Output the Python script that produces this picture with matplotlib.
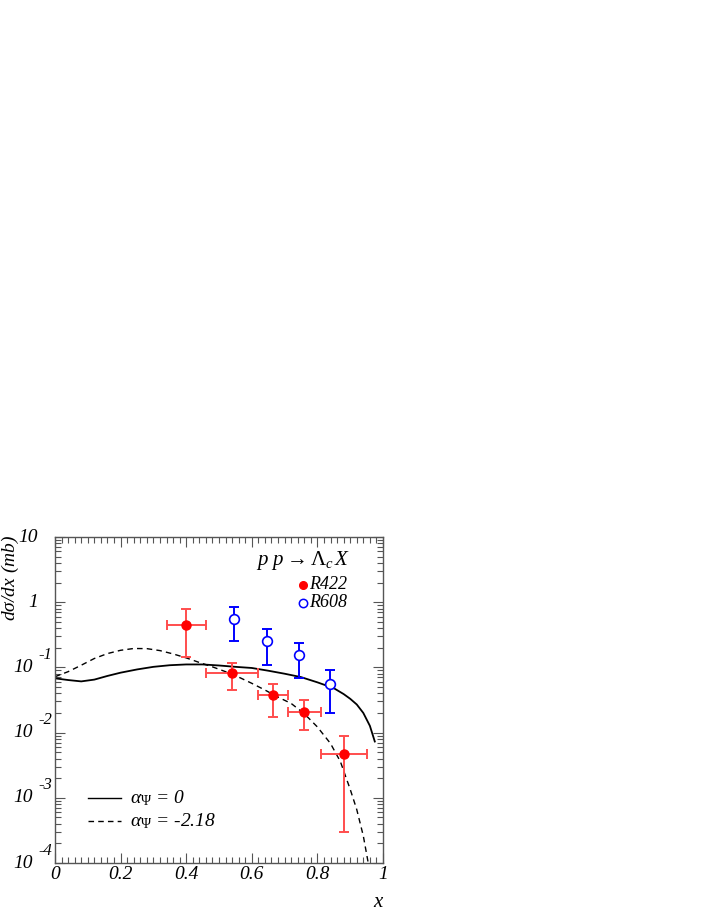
import matplotlib
matplotlib.use("Agg")
import matplotlib.pyplot as plt
import matplotlib.transforms as mtransforms
from matplotlib.ticker import MultipleLocator, LogLocator, NullFormatter

plt.rcParams['font.family'] = ['Liberation Serif', 'DejaVu Serif']
plt.rcParams['mathtext.fontset'] = 'custom'
plt.rcParams['mathtext.rm'] = 'Liberation Serif'
plt.rcParams['mathtext.it'] = 'Liberation Serif:italic'
plt.rcParams['mathtext.cal'] = 'Liberation Serif:italic'

# ---------------- data ----------------
r422_x = [0.40, 0.54, 0.664, 0.76, 0.88]
r422_y = [0.445, 0.083, 0.0373, 0.0207, 0.0047]
r422_yhi = [0.78, 0.115, 0.055, 0.0316, 0.0089]
r422_ylo = [0.146, 0.0445, 0.0176, 0.0109, 0.000294]
r422_xerr = [0.06, 0.08, 0.045, 0.05, 0.07]

r608_x = [0.547, 0.645, 0.743, 0.838]
r608_y = [0.543, 0.25, 0.153, 0.056]
r608_yhi = [0.849, 0.395, 0.239, 0.092]
r608_ylo = [0.25, 0.11, 0.068, 0.0198]

solid_x = [0, 0.04, 0.08, 0.12, 0.16, 0.2, 0.25, 0.3, 0.35, 0.4, 0.45, 0.5, 0.55,
           0.6, 0.65, 0.7, 0.75, 0.8, 0.85, 0.88, 0.9, 0.92, 0.94, 0.96, 0.975]
solid_y = [0.068, 0.064, 0.061, 0.065, 0.074, 0.083, 0.093, 0.102, 0.108, 0.111,
           0.111, 0.107, 0.102, 0.098, 0.089, 0.080, 0.071, 0.059, 0.048, 0.039,
           0.033, 0.027, 0.020, 0.0127, 0.0073]

dashed_x = [0, 0.04, 0.08, 0.12, 0.16, 0.2, 0.24, 0.28, 0.32, 0.36, 0.4, 0.44, 0.48,
            0.52, 0.56, 0.6, 0.64, 0.68, 0.72, 0.76, 0.8, 0.84, 0.87, 0.9, 0.92,
            0.94, 0.955]
dashed_y = [0.072, 0.086, 0.108, 0.137, 0.163, 0.183, 0.195, 0.194, 0.181, 0.161,
            0.140, 0.119, 0.102, 0.086, 0.071, 0.057, 0.045, 0.035, 0.028, 0.0195,
            0.0122, 0.0068, 0.0036, 0.00135, 0.00066, 0.00026, 0.0001]

xticks = [0, 0.2, 0.4, 0.6, 0.8, 1]
xticklabels = ['0', '0.2', '0.4', '0.6', '0.8', '1']
ydecades = [10, 1, 0.1, 0.01, 0.001, 0.0001]
ybase = ['10', '1', '10', '10', '10', '10']
yexp = ['', '', '-1', '-2', '-3', '-4']

# ---------------- figure ----------------
W, H = 706, 913
fig = plt.figure(figsize=(W / 100, H / 100), dpi=100)
L, R, T, B = 55, 383, 537, 863
ax = fig.add_axes([L / W, 1 - B / H, (R - L) / W, (B - T) / H])
ax.set_xlim(0, 1)
ax.set_yscale('log')
ax.set_ylim(1e-4, 10)

ax.plot(solid_x, solid_y, color='black', lw=1.3)
ax.plot(dashed_x, dashed_y, color='black', lw=1.0, ls=(0, (4, 3)))

errc = '#ff4d4d'
r422_el = [y - lo for y, lo in zip(r422_y, r422_ylo)]
r422_eh = [hi - y for y, hi in zip(r422_y, r422_yhi)]
ax.errorbar(r422_x, r422_y, yerr=[r422_el, r422_eh], xerr=r422_xerr, fmt='none',
            ecolor=errc, elinewidth=1.4, capsize=3.5, capthick=1.4, zorder=3)
ax.plot(r422_x, r422_y, 'o', color='#ff0000', ms=6.5, zorder=4)

r608_el = [y - lo for y, lo in zip(r608_y, r608_ylo)]
r608_eh = [hi - y for y, hi in zip(r608_y, r608_yhi)]
ax.errorbar(r608_x, r608_y, yerr=[r608_el, r608_eh], fmt='none',
            ecolor='#0000ff', elinewidth=1.4, capsize=3.5, capthick=1.4, zorder=3)
ax.plot(r608_x, r608_y, 'o', mfc='white', mec='#0000ff', mew=1.2, ms=7, zorder=4)

# ticks
ax.xaxis.set_major_locator(MultipleLocator(0.2))
ax.xaxis.set_minor_locator(MultipleLocator(0.02))
ax.yaxis.set_major_locator(LogLocator(base=10, numticks=20))
ax.yaxis.set_minor_locator(LogLocator(base=10, subs=range(2, 10), numticks=20))
ax.yaxis.set_minor_formatter(NullFormatter())
ax.set_yticklabels([])
ax.set_xticks(xticks)
ax.set_xticklabels(xticklabels, fontsize=14, style='italic')
ax.tick_params(which='both', direction='in', top=True, right=True, color='#555555')
ax.tick_params(which='major', length=7, width=0.8, pad=2)
ax.tick_params(which='minor', length=4, width=0.8)
ax.tick_params(axis='y', which='major', labelleft=False)
for s in ax.spines.values():
    s.set_color('#555555')
    s.set_linewidth(1.0)

trans = mtransforms.blended_transform_factory(ax.transAxes, ax.transData)
for v, b, e in zip(ydecades, ybase, yexp):
    xr = -0.067 if e else -0.052
    ax.text(xr, v, b, transform=trans, ha='right', va='center',
            fontsize=14, style='italic')
    if e:
        ax.text(-0.050, v * 10 ** 0.19, e, transform=trans, ha='left', va='center',
                fontsize=12, style='italic')

# labels
fig.text(10 / W, 1 - 535 / H, r'd$\sigma$/dx (mb)', rotation=90, ha='center', va='top',
         fontsize=14, style='italic')
fig.text(378 / W, 1 - 902 / H, 'x', ha='center', va='center', fontsize=15, style='italic')

# annotations
ax.text(0.756, 0.929, r'$p\ p \rightarrow \Lambda_c\, X$', transform=ax.transAxes,
        ha='center', va='center', fontsize=15)
ax.plot([0.756], [0.853], 'o', color='#ff0000', ms=5.5, transform=ax.transAxes)
ax.text(0.775, 0.853, 'R422', transform=ax.transAxes, ha='left', va='center',
        fontsize=13, style='italic')
ax.plot([0.756], [0.798], 'o', mfc='white', mec='#0000ff', mew=1.1, ms=6,
        transform=ax.transAxes)
ax.text(0.775, 0.798, 'R608', transform=ax.transAxes, ha='left', va='center',
        fontsize=13, style='italic')

ax.plot([0.1006, 0.2012], [0.199, 0.199], color='black', lw=1.0, transform=ax.transAxes)
ax.plot([0.1006, 0.2012], [0.129, 0.129], color='black', lw=1.0, ls=(0, (4, 3)),
        transform=ax.transAxes)
ax.text(0.229, 0.199, r'$\alpha_{\Psi}$ = 0', transform=ax.transAxes, ha='left',
        va='center', fontsize=14, style='italic')
ax.text(0.229, 0.129, r'$\alpha_{\Psi}$ = -2.18', transform=ax.transAxes, ha='left',
        va='center', fontsize=14, style='italic')

fig.savefig('out.png', dpi=100)
